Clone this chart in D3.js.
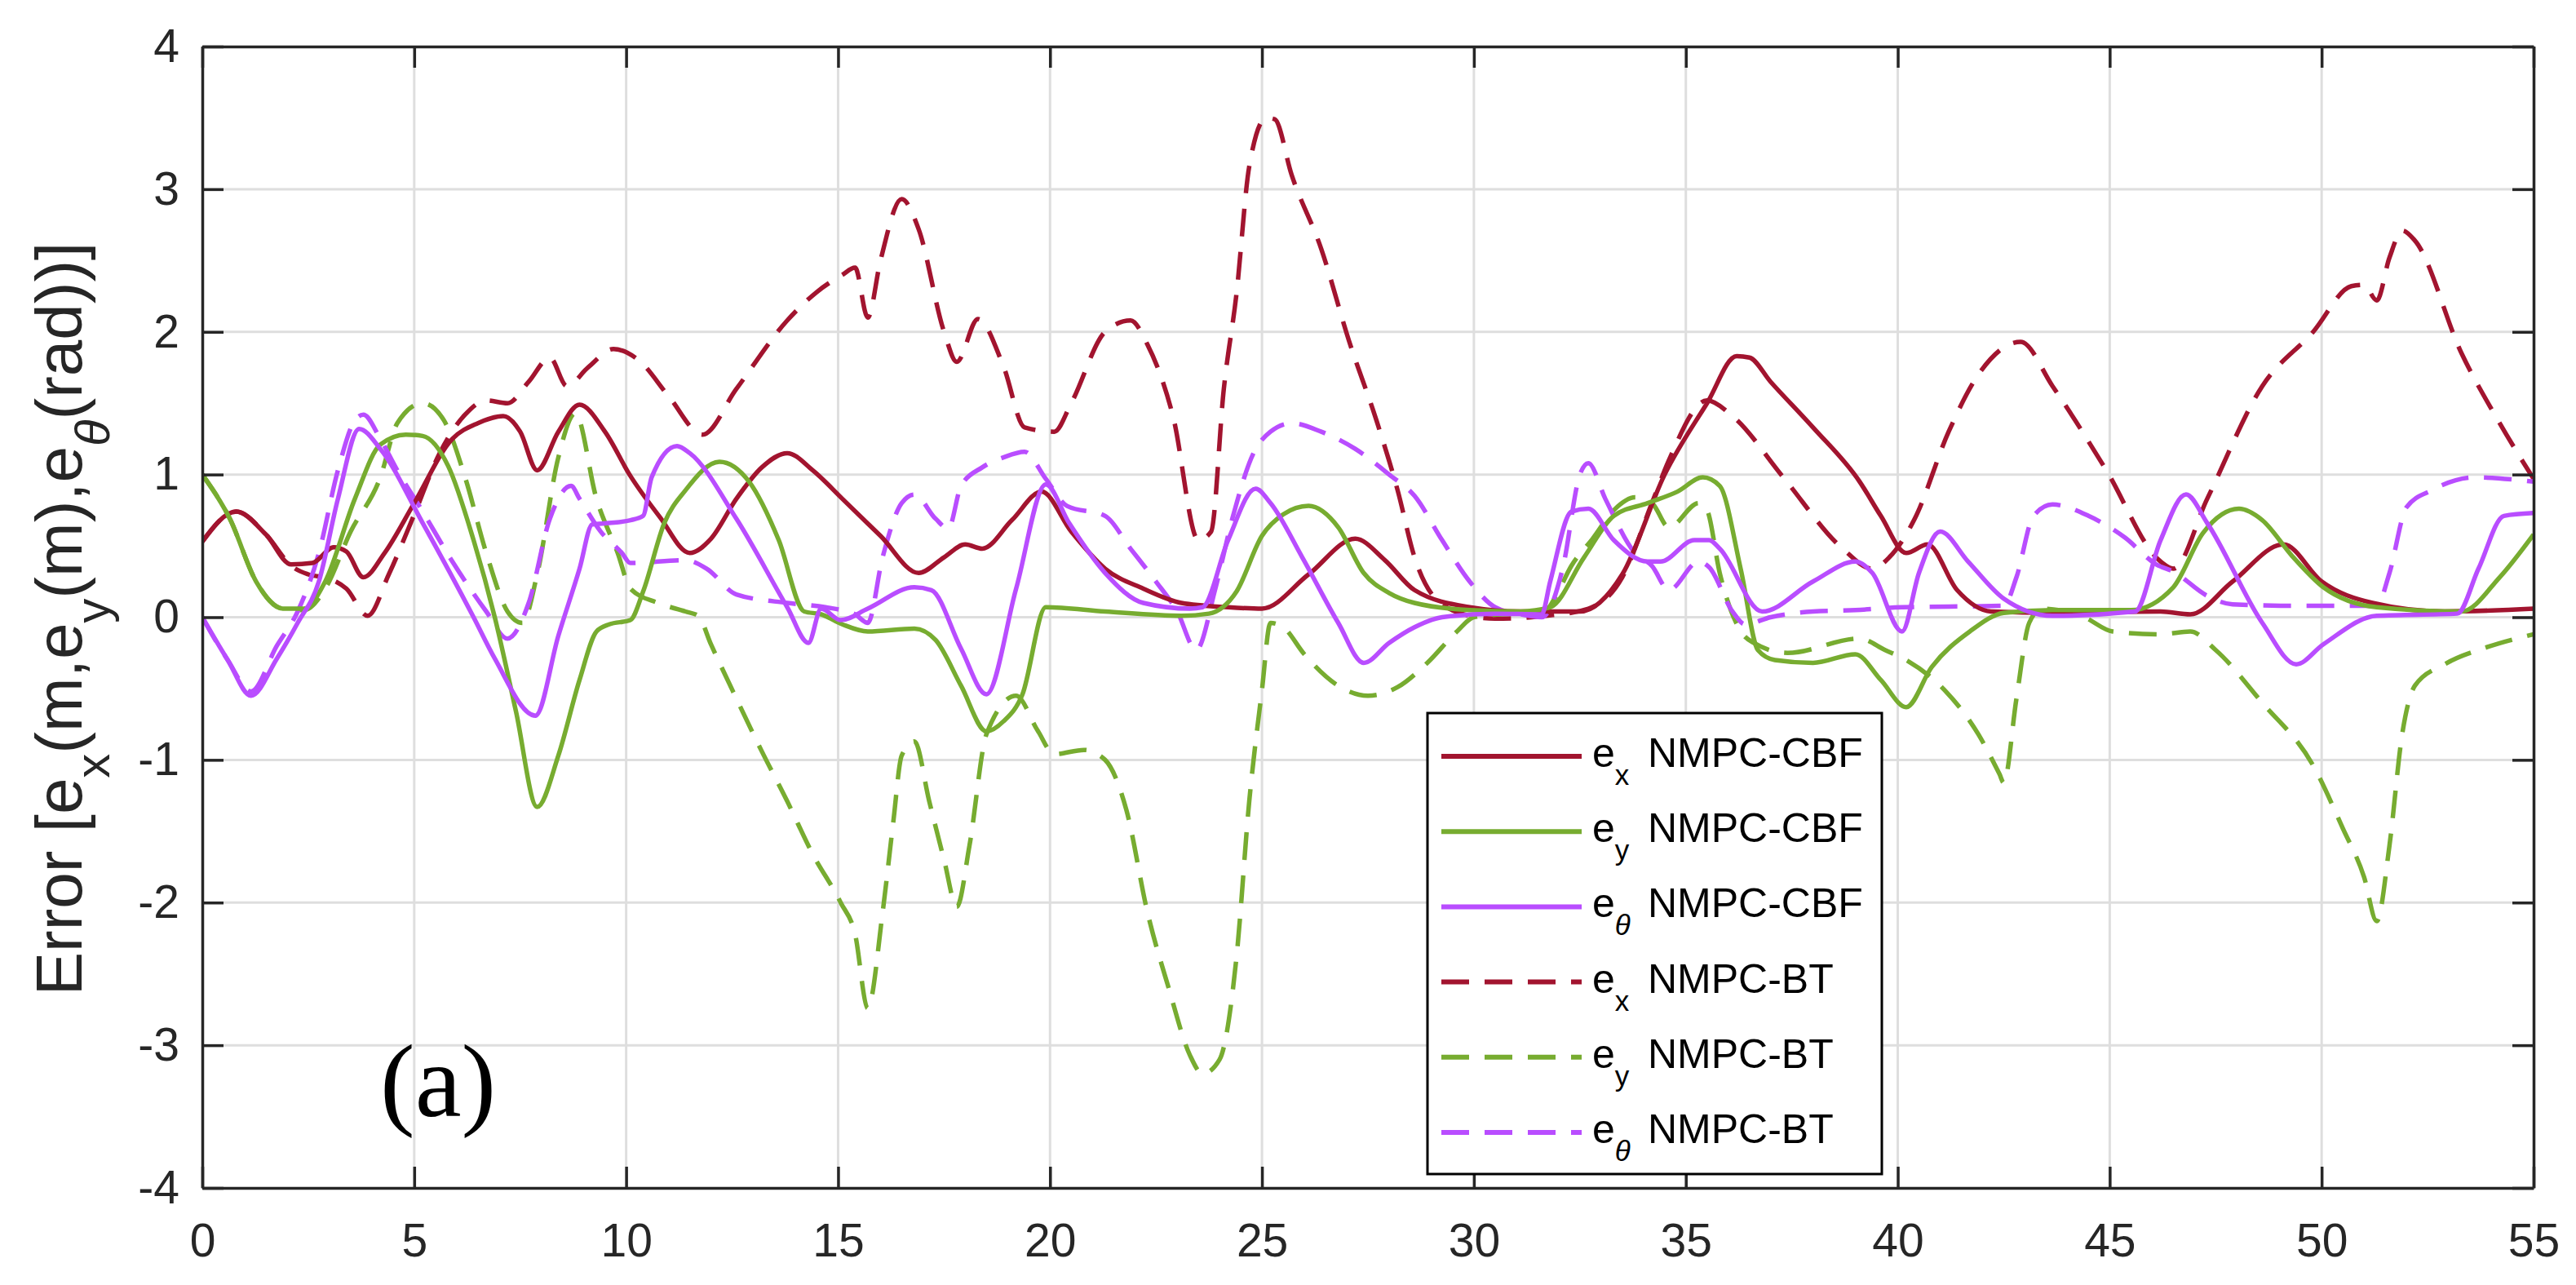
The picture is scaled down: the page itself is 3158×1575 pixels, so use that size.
<!DOCTYPE html>
<html>
<head>
<meta charset="utf-8">
<script src="https://cdn.jsdelivr.net/npm/d3@7"></script>
<style>
  html, body { margin: 0; padding: 0; background: #fff; }
  svg { display: block; }
</style>
</head>
<body>
<svg id="chart" width="3158" height="1575"></svg>
<script>
// ---- data (time [s], error value) ----
const exCBF = [[0,0.53],[0.8,0.74],[1.5,0.58],[2.1,0.37],[2.6,0.38],[3.1,0.49],[3.4,0.46],[3.8,0.28],[4.3,0.45],[5,0.8],[5.9,1.25],[6.5,1.36],[7.1,1.41],[7.5,1.3],[7.9,1.03],[8.4,1.3],[8.9,1.49],[9.5,1.3],[10.1,0.99],[10.8,0.7],[11.5,0.45],[12.0,0.55],[12.6,0.83],[13.2,1.05],[13.8,1.15],[14.4,1.03],[15.1,0.83],[16.0,0.57],[16.9,0.31],[17.5,0.42],[18.0,0.51],[18.4,0.48],[19.1,0.68],[19.8,0.88],[20.5,0.6],[21.3,0.34],[22.2,0.2],[23.1,0.1],[24.2,0.07],[25,0.06],[26.1,0.3],[27.2,0.55],[27.9,0.4],[28.6,0.19],[29.9,0.07],[31.1,0.04],[32.5,0.04],[33.5,0.3],[34.5,1.0],[35.5,1.5],[36.2,1.83],[36.5,1.82],[37,1.65],[38,1.33],[39.1,0.95],[39.6,0.71],[40.2,0.45],[40.7,0.51],[41.4,0.19],[42.2,0.04],[43.7,0.03],[46.2,0.04],[46.9,0.02],[47.9,0.25],[49.1,0.51],[50,0.25],[51.2,0.1],[52.9,0.04],[55,0.06]];

const eyCBF = [[0,1.0],[0.65,0.69],[1.27,0.25],[1.9,0.06],[2.4,0.06],[2.9,0.25],[3.6,0.83],[4.2,1.21],[4.8,1.28],[5.2,1.27],[5.8,1.06],[6.4,0.54],[6.9,0.0],[7.4,-0.66],[7.9,-1.33],[8.4,-0.97],[8.9,-0.44],[9.3,-0.1],[9.6,-0.05],[10.1,-0.02],[10.4,0.18],[10.9,0.66],[11.4,0.89],[12.2,1.09],[12.9,0.95],[13.6,0.54],[14.2,0.04],[14.6,0.02],[15.1,-0.05],[15.7,-0.1],[16.8,-0.08],[17.3,-0.16],[17.9,-0.48],[18.5,-0.8],[18.9,-0.73],[19.35,-0.54],[19.9,0.07],[21.3,0.04],[23.1,0.01],[23.75,0.025],[24.4,0.18],[25,0.57],[25.5,0.72],[26.1,0.78],[26.8,0.63],[27.4,0.31],[28.0,0.17],[28.6,0.1],[29.9,0.05],[31.1,0.04],[31.8,0.07],[32.6,0.42],[33.3,0.71],[34.1,0.8],[34.8,0.88],[35.4,0.98],[35.8,0.92],[36.3,0.33],[36.7,-0.23],[37.1,-0.3],[38,-0.32],[39,-0.26],[39.6,-0.44],[40.2,-0.63],[40.8,-0.35],[41.7,-0.1],[42.5,0.03],[43.65,0.05],[45.5,0.05],[46.5,0.21],[47.2,0.59],[48.05,0.76],[48.6,0.68],[49.3,0.43],[50.04,0.21],[51.3,0.07],[53.3,0.04],[54.2,0.28],[55,0.58]];

const ethCBF = [[0,0],[0.6,-0.3],[1.15,-0.55],[1.76,-0.29],[2.25,-0.04],[2.75,0.25],[3.2,0.83],[3.7,1.32],[4.2,1.18],[5.2,0.66],[6.4,0.0],[6.9,-0.29],[7.86,-0.69],[8.4,-0.13],[8.9,0.34],[9.2,0.65],[9.6,0.66],[10.1,0.68],[10.4,0.71],[10.6,0.98],[11.2,1.2],[11.5,1.15],[12.6,0.69],[13.8,0.07],[14.3,-0.18],[14.6,0.06],[15.06,-0.02],[15.7,0.06],[16.8,0.21],[17.2,0.19],[17.9,-0.22],[18.5,-0.54],[19.2,0.2],[19.9,0.93],[20.45,0.66],[21.3,0.31],[22.2,0.1],[23.3,0.06],[23.6,0.07],[24.2,0.54],[24.85,0.9],[25.2,0.8],[25.95,0.42],[26.8,-0.04],[27.4,-0.32],[28.0,-0.18],[28.6,-0.07],[29.25,0],[30.5,0.025],[31.6,0.02],[31.8,0.25],[32.3,0.74],[32.7,0.76],[33.3,0.54],[34.1,0.39],[34.4,0.39],[35.2,0.54],[35.55,0.54],[35.8,0.48],[36.8,0.04],[38,0.25],[39.0,0.39],[39.4,0.31],[40.1,-0.1],[40.5,0.31],[41.0,0.6],[41.66,0.39],[42.5,0.13],[43.65,0.01],[45.6,0.04],[46.2,0.54],[46.8,0.86],[47.3,0.66],[48.6,-0.04],[49.4,-0.33],[50.04,-0.19],[51.3,0.01],[53.2,0.025],[53.7,0.34],[54.3,0.71],[55,0.73]];

const exBT = [[0,0.53],[0.8,0.74],[1.5,0.58],[2.1,0.36],[2.5,0.3],[3.0,0.27],[3.4,0.2],[3.9,0.01],[4.4,0.3],[5,0.72],[5.6,1.15],[6.2,1.42],[6.7,1.52],[7.2,1.5],[7.7,1.65],[8.2,1.82],[8.6,1.62],[9.1,1.75],[9.7,1.88],[10.3,1.8],[11.0,1.55],[11.8,1.28],[12.6,1.6],[13.8,2.08],[14.5,2.28],[15.1,2.4],[15.4,2.45],[15.7,2.1],[16.0,2.5],[16.5,2.93],[16.9,2.72],[17.5,2.0],[17.8,1.79],[18.3,2.09],[18.9,1.76],[19.4,1.33],[20.1,1.3],[20.5,1.5],[21.3,2.0],[21.9,2.08],[22.3,1.91],[22.9,1.41],[23.5,0.54],[23.8,0.6],[24.1,1.6],[24.4,2.27],[24.7,3.16],[25.1,3.5],[25.3,3.49],[25.7,3.1],[26.4,2.58],[27.05,1.94],[27.7,1.38],[28.2,0.89],[28.6,0.42],[29.1,0.13],[29.9,0.01],[30.5,-0.01],[31.7,0.01],[32.7,0.06],[33.5,0.28],[34.2,0.8],[34.6,1.1],[35.5,1.52],[36.1,1.41],[37.3,0.98],[38.7,0.48],[39.4,0.34],[39.8,0.42],[40.4,0.69],[41.2,1.3],[41.9,1.7],[42.9,1.93],[43.65,1.62],[44.9,1.04],[46.2,0.39],[46.5,0.34],[47.3,0.83],[48.6,1.62],[49.8,2.0],[50.7,2.32],[51.0,2.33],[51.3,2.22],[51.6,2.52],[51.9,2.71],[52.2,2.64],[53.3,1.85],[54.2,1.36],[55,0.97]];

const eyBT = [[0,1.0],[0.65,0.69],[1.27,0.25],[1.9,0.06],[2.4,0.05],[2.9,0.2],[3.5,0.6],[4.2,0.98],[4.6,1.36],[5.2,1.5],[5.7,1.38],[6.2,0.98],[6.7,0.45],[7.2,0.04],[7.55,-0.04],[7.9,0.3],[8.4,1.12],[8.8,1.43],[9.3,0.83],[9.8,0.45],[10.1,0.2],[10.75,0.1],[11.4,0.04],[11.7,0.01],[12.0,-0.19],[12.6,-0.57],[13.2,-0.94],[13.8,-1.29],[14.4,-1.66],[15.06,-2.0],[15.4,-2.22],[15.7,-2.74],[16.05,-2.07],[16.3,-1.44],[16.5,-0.97],[16.8,-0.87],[17.15,-1.29],[17.5,-1.7],[17.8,-2.03],[18.1,-1.6],[18.5,-0.82],[19.2,-0.55],[19.7,-0.79],[20.1,-0.96],[20.8,-0.93],[21.3,-1.0],[21.8,-1.35],[22.3,-2.07],[22.8,-2.6],[23.3,-3.07],[23.6,-3.2],[24.0,-3.1],[24.4,-2.38],[24.7,-1.29],[25.0,-0.51],[25.2,-0.04],[25.5,-0.07],[26.0,-0.26],[26.8,-0.48],[27.5,-0.55],[28.2,-0.49],[28.9,-0.32],[29.6,-0.1],[30.0,0],[31.1,0.03],[31.7,0.05],[31.9,0.13],[32.3,0.36],[32.8,0.55],[33.3,0.75],[33.8,0.84],[34.2,0.8],[34.6,0.63],[35.3,0.8],[35.5,0.75],[35.8,0.31],[36.3,-0.1],[36.6,-0.18],[37.4,-0.25],[39.1,-0.15],[39.7,-0.23],[40.2,-0.3],[41.1,-0.51],[41.9,-0.82],[42.4,-1.1],[42.5,-1.16],[42.8,-0.57],[43.1,-0.04],[43.4,0.06],[44.4,0.0],[45.07,-0.1],[46.2,-0.12],[46.9,-0.1],[47.5,-0.23],[48.6,-0.6],[49.8,-1.04],[50.5,-1.48],[51.0,-1.82],[51.3,-2.13],[51.6,-1.6],[51.9,-0.82],[52.2,-0.48],[52.9,-0.33],[53.9,-0.21],[55,-0.12]];

const ethBT = [[0,0],[0.6,-0.3],[1.15,-0.52],[1.76,-0.2],[2.25,0.04],[2.75,0.45],[3.2,1.03],[3.6,1.38],[3.8,1.42],[4.2,1.25],[4.6,1.03],[5.2,0.74],[5.9,0.39],[6.7,0.04],[7.2,-0.15],[7.7,0.1],[8.2,0.69],[8.7,0.92],[8.9,0.83],[9.4,0.6],[9.9,0.45],[10.1,0.38],[11.4,0.4],[11.9,0.34],[12.6,0.16],[13.8,0.1],[14.7,0.07],[15.4,0.02],[15.7,-0.04],[16.05,0.42],[16.5,0.8],[16.8,0.86],[17.3,0.69],[17.6,0.62],[17.9,0.92],[18.4,1.05],[18.9,1.12],[19.4,1.16],[19.9,0.97],[20.4,0.78],[21.3,0.71],[21.9,0.48],[22.5,0.25],[23.0,0.04],[23.45,-0.23],[23.9,0.2],[24.3,0.69],[24.8,1.15],[25.2,1.3],[25.7,1.36],[26.4,1.3],[27.2,1.18],[28.0,1.0],[28.6,0.85],[29.25,0.54],[29.9,0.25],[30.5,0.07],[31.1,0.02],[31.6,0.0],[32.1,0.35],[32.5,1.0],[32.7,1.08],[33.1,0.83],[33.8,0.45],[34.2,0.36],[34.6,0.19],[35.3,0.39],[35.55,0.35],[36.1,0.04],[36.4,-0.05],[37,0.0],[38,0.04],[39,0.05],[40.1,0.07],[42.5,0.08],[42.8,0.28],[43.2,0.71],[43.65,0.79],[44.5,0.71],[45.35,0.56],[46.1,0.37],[46.5,0.32],[47.3,0.15],[47.9,0.09],[49.3,0.08],[51.3,0.08],[51.6,0.31],[52.0,0.77],[52.6,0.89],[53.6,0.98],[55,0.95]];

const xTicks = [0,5,10,15,20,25,30,35,40,45,50,55];
const yTicks = [-4,-3,-2,-1,0,1,2,3,4];

const seriesData = [exCBF, eyCBF, ethCBF, exBT, eyBT, ethBT];
const seriesSub = ["x","y","θ","x","y","θ"];
const seriesLabel = ["NMPC-CBF","NMPC-CBF","NMPC-CBF","NMPC-BT","NMPC-BT","NMPC-BT"];
const seriesColor = ["#A2142F","#77AC30","#B94DFF","#A2142F","#77AC30","#B94DFF"];
const seriesDashed = [false,false,false,true,true,true];

// ---- layout ----
const L = 248, R = 3106, T = 57, B = 1456;
const svg = d3.select("#chart");
const x = d3.scaleLinear().domain([0,55]).range([L,R]);
const y = d3.scaleLinear().domain([-4,4]).range([B,T]);
const axisColor = "#262626";
const font = "'Liberation Sans', Arial, Helvetica, sans-serif";
const fmt = d => String(d);   // plain hyphen minus, as in the reference

// grid
const grid = svg.append("g");
grid.selectAll("line.gx").data(xTicks.slice(1,-1)).join("line")
  .attr("x1", d=>x(d)).attr("x2", d=>x(d)).attr("y1", T).attr("y2", B)
  .attr("stroke", "#dedede").attr("stroke-width", 3);
grid.selectAll("line.gy").data(yTicks.slice(1,-1)).join("line")
  .attr("y1", d=>y(d)).attr("y2", d=>y(d)).attr("x1", L).attr("x2", R)
  .attr("stroke", "#dedede").attr("stroke-width", 3);

// clip
svg.append("clipPath").attr("id","plotclip").append("rect")
  .attr("x", L).attr("y", T).attr("width", R-L).attr("height", B-T);

const line = d3.line().x(d=>x(d[0])).y(d=>y(d[1])).curve(d3.curveMonotoneX);
const plot = svg.append("g").attr("clip-path","url(#plotclip)");
[3,4,5,0,1,2].forEach(i => {
  plot.append("path").datum(seriesData[i])
    .attr("d", line)
    .attr("fill","none")
    .attr("stroke", seriesColor[i])
    .attr("stroke-width", 5.5)
    .attr("stroke-linejoin","round")
    .attr("stroke-dasharray", seriesDashed[i] ? "34,19" : null);
});

// axes (box with inward ticks)
const tickLen = 26;
const axisBottom = d3.axisBottom(x).tickValues(xTicks).tickFormat(fmt).tickSizeInner(-tickLen).tickSizeOuter(0).tickPadding(44);
const axisTop = d3.axisTop(x).tickValues(xTicks).tickSizeInner(-tickLen).tickSizeOuter(0).tickFormat("");
const axisLeft = d3.axisLeft(y).tickValues(yTicks).tickFormat(fmt).tickSizeInner(-tickLen).tickSizeOuter(0).tickPadding(28);
const axisRight = d3.axisRight(y).tickValues(yTicks).tickSizeInner(-tickLen).tickSizeOuter(0).tickFormat("");

function styleAxis(g){
  g.attr("font-family", null).attr("font-size", null);
  g.select(".domain").attr("stroke", axisColor).attr("stroke-width", 3.5);
  g.selectAll(".tick line").attr("stroke", axisColor).attr("stroke-width", 3.5);
  g.selectAll(".tick text").attr("fill", axisColor).attr("font-family", font).attr("font-size", 57);
}
svg.append("g").attr("transform",`translate(0,${B})`).call(axisBottom).call(styleAxis);
svg.append("g").attr("transform",`translate(0,${T})`).call(axisTop).call(styleAxis);
svg.append("g").attr("transform",`translate(${L},0)`).call(axisLeft).call(styleAxis);
svg.append("g").attr("transform",`translate(${R},0)`).call(axisRight).call(styleAxis);

// y label
const yl = svg.append("text")
  .attr("transform", `translate(100,${(T+B)/2 + 2}) rotate(-90)`)
  .attr("text-anchor","middle")
  .attr("font-family", font).attr("font-size", 80).attr("fill", axisColor);
const ylParts = [["Error [e",0],["x",1],["(m,e",0],["y",1],["(m),e",0],["θ",2],["(rad))]",0]];
let shifted = false;
ylParts.forEach(([t,kind]) => {
  const ts = yl.append("tspan").text(t);
  if (kind > 0) {
    ts.attr("font-size", 60).attr("dy", 34);
    if (kind === 2) ts.attr("font-style","italic");
    shifted = true;
  } else if (shifted) {
    ts.attr("dy", -34);
    shifted = false;
  }
});

// (a) label
svg.append("text").attr("x", 466).attr("y", 1368)
  .attr("font-family", "'Liberation Serif', 'Times New Roman', serif")
  .attr("font-size", 128).attr("fill", "#000").text("(a)");

// legend
const lg = svg.append("g");
const LX = 1750, LY = 874, LW = 557, LH = 565;
lg.append("rect").attr("x", LX).attr("y", LY).attr("width", LW).attr("height", LH)
  .attr("fill", "#fff").attr("stroke", "#000").attr("stroke-width", 3);
const rowY = d3.scaleLinear().domain([0,5]).range([927, 1388]);
seriesLabel.forEach((name, i) => {
  const yy = rowY(i);
  lg.append("line").attr("x1", 1767).attr("x2", 1939).attr("y1", yy).attr("y2", yy)
    .attr("stroke", seriesColor[i]).attr("stroke-width", 6)
    .attr("stroke-dasharray", seriesDashed[i] ? "34,19" : null);
  const tx = lg.append("text").attr("x", 1952).attr("y", yy + 13)
    .attr("font-family", font).attr("font-size", 50).attr("fill", "#000");
  tx.append("tspan").text("e");
  const sub = tx.append("tspan").attr("font-size", 35).attr("dy", 22).text(seriesSub[i]);
  if (seriesSub[i] === "θ") sub.attr("font-style","italic");
  lg.append("text").attr("x", 2020).attr("y", yy + 13)
    .attr("font-family", font).attr("font-size", 50).attr("fill", "#000")
    .text(name);
});
</script>
</body>
</html>
